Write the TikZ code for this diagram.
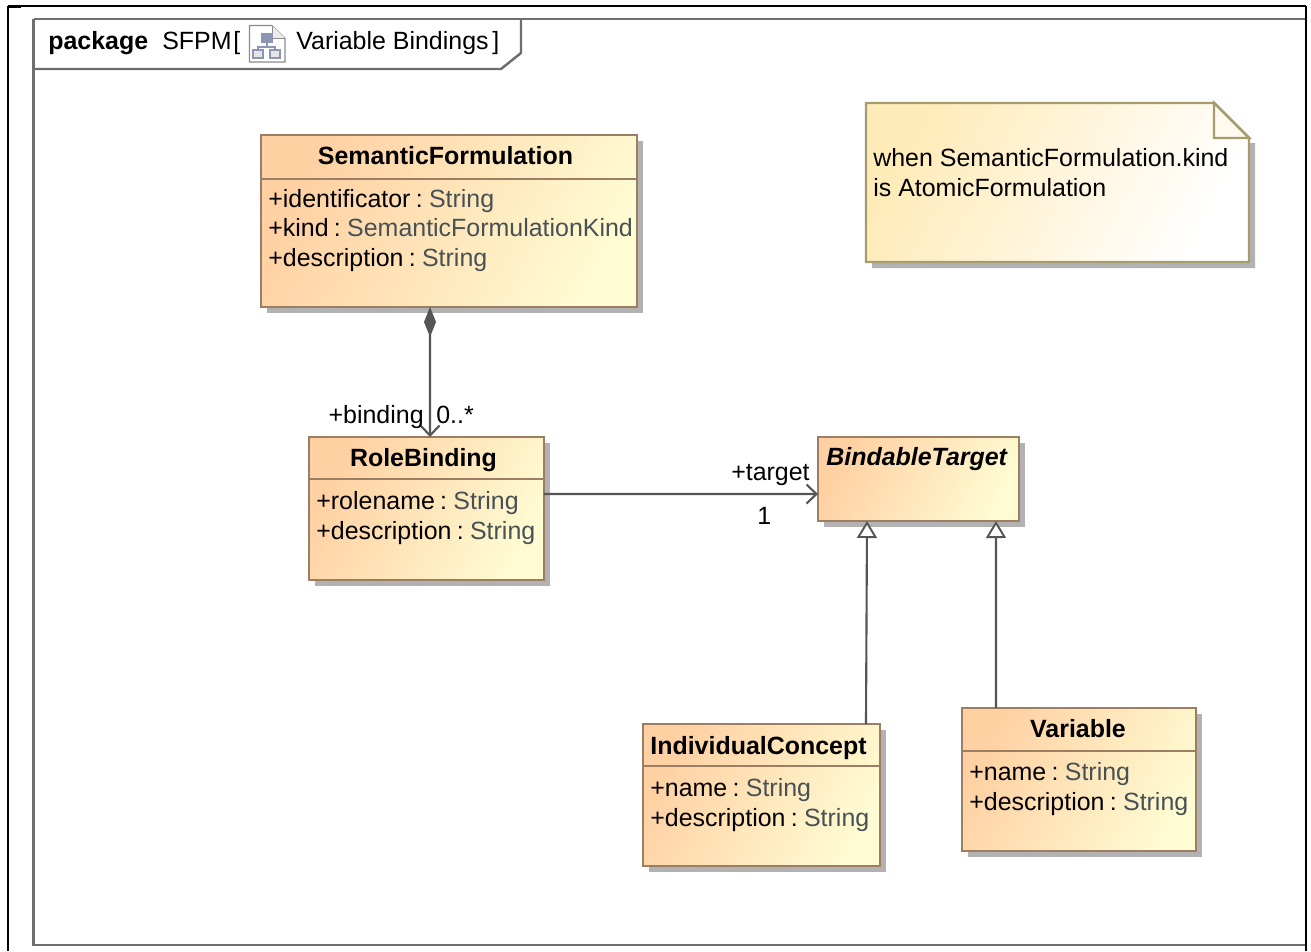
\documentclass[tikz,border=0pt]{standalone}
\usepackage{fontspec}
\setmainfont{Liberation Sans}
\usetikzlibrary{shadows,arrows.meta}
\definecolor{boxline}{HTML}{9C7F63}
\definecolor{boxleft}{HTML}{FFD0A2}
\definecolor{boxright}{HTML}{FFFBD2}
\definecolor{noteline}{HTML}{A69C6C}
\definecolor{noteleft}{HTML}{FFEBB8}
\definecolor{typegray}{HTML}{465055}
\definecolor{framegray}{HTML}{6E6E6E}
\definecolor{connline}{HTML}{555555}
\definecolor{iconblue}{HTML}{8C96B4}
\newcommand{\attrtype}[1]{\kern3pt:\kern3.6pt{\color{typegray}#1}}
\tikzset{
  diagramtext/.style={font=\fontsize{14.2}{16.7}\selectfont,inner sep=0pt,text=black},
  classbox/.style={draw=boxline,line width=1.5pt,left color=boxleft,right color=boxright,shading angle=62,
    inner sep=0pt,outer sep=0pt,drop shadow={shadow xshift=0.12cm,shadow yshift=-0.12cm,fill=black!30,opacity=1}},
  classtitle/.style={diagramtext,font=\fontsize{14.2}{16.7}\selectfont\bfseries},
  members/.style={diagramtext,align=left,anchor=base west},
  endlabel/.style={diagramtext,anchor=base west},
  divider/.style={draw=boxline,line width=1.2pt},
  composition/.style={draw=connline,line width=1.2pt,{Diamond[length=0.6cm,width=0.24cm,fill=connline]}-{Straight Barb[length=0.2cm,width=0.38cm,line width=1.2pt]}},
  association/.style={draw=connline,line width=1.2pt,-{Straight Barb[length=0.2cm,width=0.38cm,line width=1.2pt]}},
  generalization/.style={draw=connline,line width=1.2pt,-{Triangle[open,fill=white,length=0.34cm,width=0.4cm,line width=1.1pt]}},
}
\begin{document}
\begin{tikzpicture}[x=0.02cm,y=-0.02cm]
  \useasboundingbox (0,0) rectangle (1311,951);
  \fill[white] (0,0) rectangle (1311,951);
  % outer page
  \draw[black,line width=0.6pt] (8,6) -- (1306,6);
  \draw[black,line width=1.2pt] (8,6.5) -- (21,6.5);
  \draw[black,line width=1.2pt] (8,6) -- (8,951);
  \draw[black,line width=1.2pt] (1306,6) -- (1306,951);
  % frame and tab
  \draw[framegray,line width=1.4pt] (33.5,19) -- (1305,19);
  \draw[framegray,line width=1.4pt] (33.5,19) -- (33.5,945) -- (1305,945);
  \draw[framegray,line width=1.4pt] (33.5,69) -- (501,69) -- (521,53) -- (521,19);
  \node[classtitle,anchor=base west] (pkg) at (48,49) {package};
  \node[endlabel] (pkgname) at (162,49) {SFPM};
  \node[endlabel] (pkgopen) at (233,49) {[};
  \node[endlabel] (pkgtitle) at (296,49) {Variable Bindings};
  \node[endlabel] (pkgclose) at (492,49) {]};
  % diagram icon
  \draw[black!45,fill=white,line width=0.6pt] (249.5,25.5) -- (272,25.5) -- (285,38) -- (285,62) -- (249.5,62) -- cycle;
  \draw[black!45,fill=black!8,line width=0.5pt] (272,25.5) -- (272,38) -- (285,38);
  \draw[iconblue,line width=0.6pt] (267,43) -- (267,47) (258,51) -- (258,47) -- (275,47) -- (275,51);
  \fill[iconblue] (261,33) rectangle (273,43);
  \draw[iconblue,fill=black!10,line width=0.6pt] (253,50) rectangle (263,58);
  \draw[iconblue,fill=black!10,line width=0.6pt] (270,50) rectangle (280,58);
  % note
  \fill[black!30] (1249,143) -- (1255,143) -- (1255,268) -- (872,268) -- (872,262) -- (1249,262) -- cycle;
  \shade[left color=noteleft,right color=white,shading angle=62] (866,103) -- (1214,103) -- (1249,138) -- (1249,262) -- (866,262) -- cycle;
  \draw[noteline,line width=1.4pt] (866,103) -- (1214,103) -- (1249,138) -- (1249,262) -- (866,262) -- cycle;
  \draw[noteline,fill=noteleft!25,line width=1.4pt] (1214,103) -- (1214,138) -- (1249,138) -- cycle;
  \node[members] (notetext) at (873,196) {when SemanticFormulation.kind\\[0.2pt]is AtomicFormulation};
  % classes
  \node[classbox,minimum width=7.52cm,minimum height=3.44cm] (sf) at (449,221) {};
  \node[classbox,minimum width=4.7cm,minimum height=2.86cm] (rb) at (426.5,508.5) {};
  \node[classbox,minimum width=4.02cm,minimum height=1.68cm] (bt) at (918.5,479) {};
  \node[classbox,minimum width=4.74cm,minimum height=2.84cm] (ic) at (761.5,795) {};
  \node[classbox,minimum width=4.68cm,minimum height=2.86cm] (var) at (1079,779.5) {};
  \draw[divider] (sf.north west |- 0,179) -- (sf.north east |- 0,179);
  \draw[divider] (rb.north west |- 0,479) -- (rb.north east |- 0,479);
  \draw[divider] (ic.north west |- 0,766) -- (ic.north east |- 0,766);
  \draw[divider] (var.north west |- 0,751) -- (var.north east |- 0,751);
  \node[classtitle,anchor=base] (sfname) at (445.5,164) {SemanticFormulation};
  \node[classtitle,anchor=base] (rbname) at (423.5,466) {RoleBinding};
  \node[classtitle,anchor=base west,font=\fontsize{14.2}{16.7}\selectfont\bfseries\itshape] (btname) at (826,465) {BindableTarget};
  \node[classtitle,anchor=base west] (icname) at (650,754) {IndividualConcept};
  \node[classtitle,anchor=base] (varname) at (1078,737) {Variable};
  \node[members] (sfattrs) at (268,266) {+identificator\attrtype{String}\\+kind\attrtype{SemanticFormulationKind}\\+description\attrtype{String}};
  \node[members] (rbattrs) at (316,539) {+rolename\attrtype{String}\\+description\attrtype{String}};
  \node[members] (icattrs) at (650,826) {+name\attrtype{String}\\+description\attrtype{String}};
  \node[members] (varattrs) at (969,810) {+name\attrtype{String}\\+description\attrtype{String}};
  % connectors
  \draw[composition] ([xshift=-0.38cm]sf.south) -- ([xshift=0.07cm]rb.north);
  \draw[association] ([yshift=0.29cm]rb.east) -- ([yshift=-0.3cm]bt.west);
  \draw[generalization] ([xshift=2.09cm]ic.north) -- ([xshift=-1.03cm]bt.south);
  \draw[generalization] ([xshift=-1.66cm]var.north) -- ([xshift=1.55cm]bt.south);
  \node[endlabel,anchor=base east] (bindrole) at (424,423) {+binding};
  \node[endlabel] (bindmult) at (436,423) {0..*};
  \node[endlabel,anchor=base east] (targetrole) at (810,480) {+target};
  \node[endlabel] (targetmult) at (757,524) {1};
\end{tikzpicture}
\end{document}
